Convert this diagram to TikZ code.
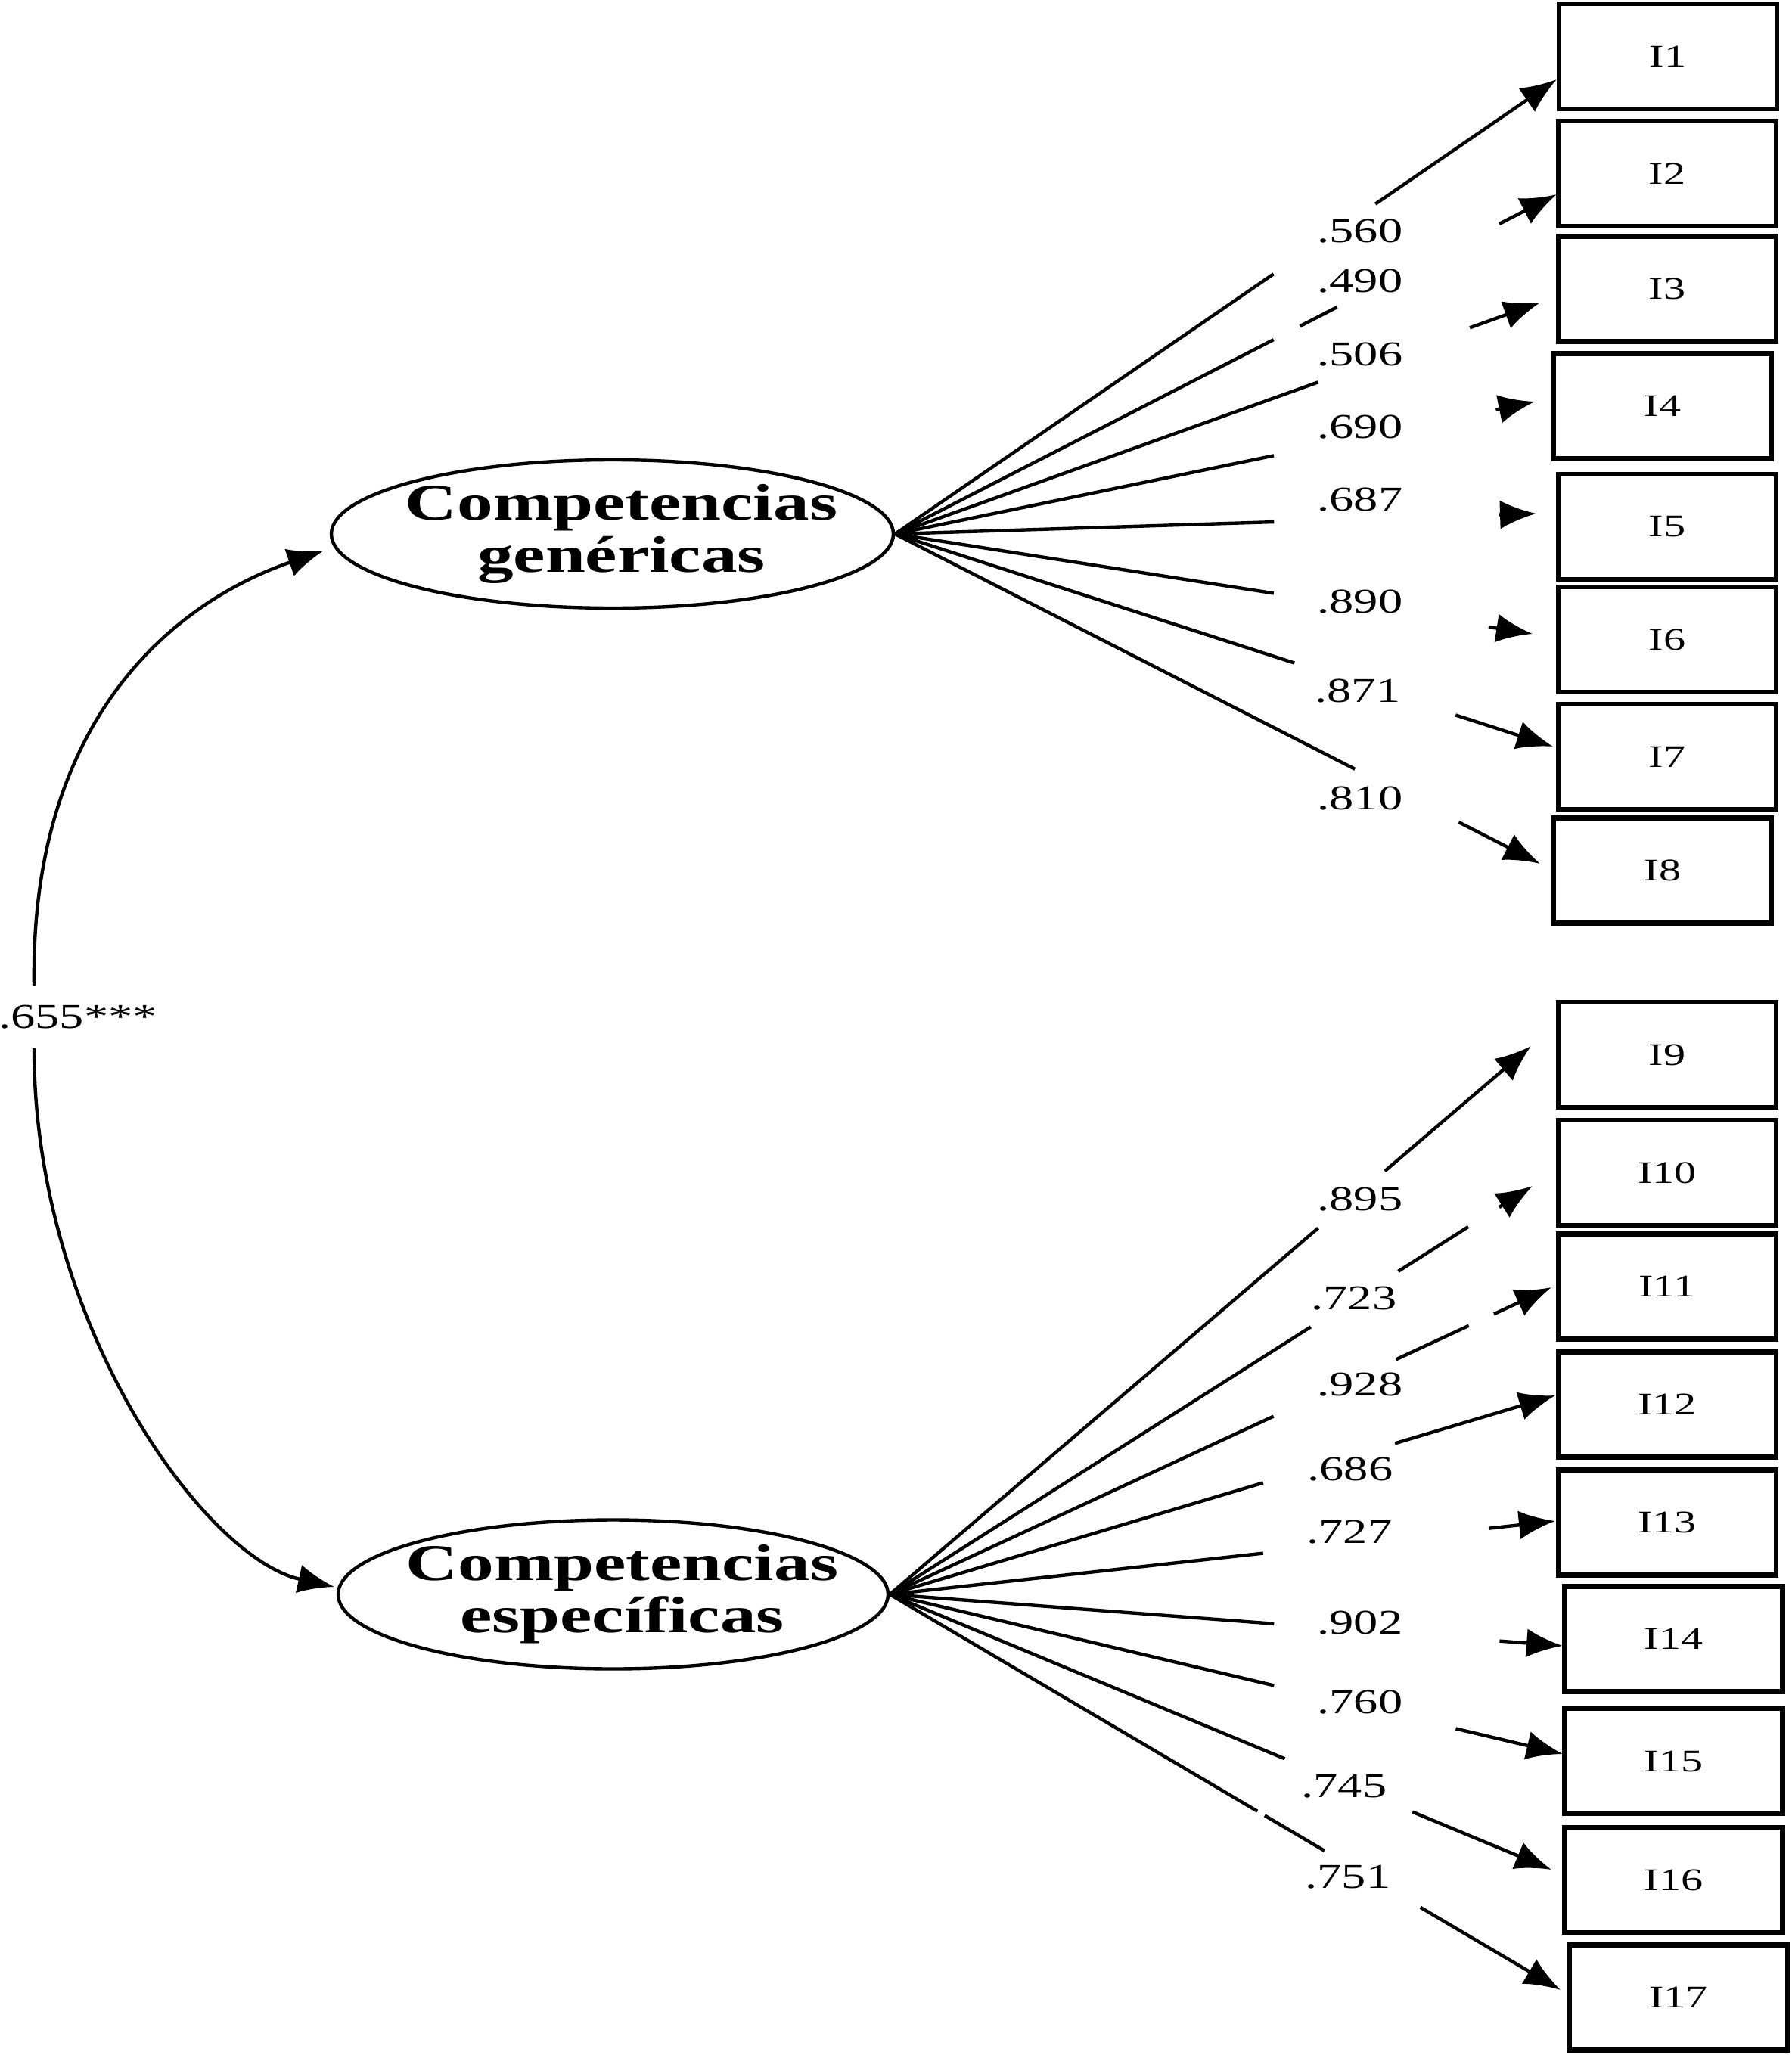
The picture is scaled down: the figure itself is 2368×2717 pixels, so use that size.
\documentclass[tikz,border=0pt]{standalone}
\usepackage{fontspec}
\setmainfont{Liberation Serif}[FakeStretch=1.4]
\usetikzlibrary{arrows.meta,calc,shapes.geometric}
\begin{document}
\begin{tikzpicture}[x=0.25pt,y=-0.25pt,
  conn/.style={line width=1.1pt},
  arr/.style={-{Latex[length=12pt,width=9.5pt]}},
  item/.style={draw,line width=1.6pt,minimum width=72pt,minimum height=34.75pt,inner sep=0pt,font=\fontsize{10.4}{12}\selectfont},
  latent/.style={draw,ellipse,line width=1.1pt,inner sep=0pt},
  ltext/.style={align=center,inner sep=0pt,xshift=3pt,font=\fontsize{17}{17.3}\selectfont\bfseries},
  lab/.style={inner sep=0pt,font=\fontsize{11.5}{13}\selectfont}]
\useasboundingbox (0,0) rectangle (2368,2717);
% latent variables
\node[latent,minimum width=185.75pt,minimum height=49pt,label={[ltext]center:{Competencias\\genéricas}}] (G) at (809.5,706) {};
\node[latent,minimum width=181.75pt,minimum height=49.25pt,label={[ltext]center:{Competencias\\específicas}}] (S) at (810.5,2108) {};
% items
\node[item] (I1) at (2205,74.5) {I1};
\node[item] (I2) at (2204,229.5) {I2};
\node[item] (I3) at (2204,382) {I3};
\node[item] (I4) at (2198,537) {I4};
\node[item] (I5) at (2204,696.5) {I5};
\node[item] (I6) at (2204,845.5) {I6};
\node[item] (I7) at (2204,1000.5) {I7};
\node[item] (I8) at (2198,1151) {I8};
\node[item] (I9) at (2204,1394.5) {I9};
\node[item] (I10) at (2204,1550.5) {I10};
\node[item] (I11) at (2204,1701) {I11};
\node[item] (I12) at (2204,1857) {I12};
\node[item] (I13) at (2204,2013) {I13};
\node[item] (I14) at (2212.5,2167) {I14};
\node[item] (I15) at (2212.5,2328.5) {I15};
\node[item] (I16) at (2212.5,2485.5) {I16};
\node[item] (I17) at (2219,2641) {I17};
% loading labels
\node[lab] (l1) at (1798,306) {.560};
\node[lab] (l2) at (1798,372) {.490};
\node[lab] (l3) at (1798,469) {.506};
\node[lab] (l4) at (1798,565) {.690};
\node[lab] (l5) at (1798,661) {.687};
\node[lab] (l6) at (1798,796) {.890};
\node[lab] (l7) at (1795,914) {.871};
\node[lab] (l8) at (1798,1056) {.810};
\node[lab] (l9) at (1798,1586) {.895};
\node[lab] (l10) at (1790,1717) {.723};
\node[lab] (l11) at (1798,1831) {.928};
\node[lab] (l12) at (1785,1943) {.686};
\node[lab] (l13) at (1784,2026) {.727};
\node[lab] (l14) at (1798,2146) {.902};
\node[lab] (l15) at (1798,2251) {.760};
\node[lab] (l16) at (1777,2362) {.745};
\node[lab] (l17) at (1782,2482) {.751};
% arrow tips
\coordinate (t1) at (2058,105);
\coordinate (t2) at (2058,257);
\coordinate (t3) at (2036,400);
\coordinate (t4) at (2029,531);
\coordinate (t5) at (2031,679);
\coordinate (t6) at (2026,838);
\coordinate (t7) at (2053,987);
\coordinate (t8) at (2036,1142);
\coordinate (t9) at (2024,1383);
\coordinate (t10) at (2026,1568);
\coordinate (t11) at (2051,1702);
\coordinate (t12) at (2056,1845);
\coordinate (t13) at (2056,2011);
\coordinate (t14) at (2066,2176);
\coordinate (t15) at (2066,2319);
\coordinate (t16) at (2051,2472);
\coordinate (t17) at (2063,2631);
% generic loadings
\draw[conn] (G.east) -- ($(G.east)!0.572!(t1)$);
\draw[conn,arr] ($(G.east)!0.726!(t1)$) -- (t1);
\draw[conn] (G.east) -- ($(G.east)!0.572!(t2)$);
\draw[conn] ($(G.east)!0.612!(t2)$) -- ($(G.east)!0.668!(t2)$);
\draw[conn,arr] ($(G.east)!0.913!(t2)$) -- (t2);
\draw[conn] (G.east) -- ($(G.east)!0.656!(t3)$);
\draw[conn,arr] ($(G.east)!0.891!(t3)$) -- (t3);
\draw[conn] (G.east) -- ($(G.east)!0.592!(t4)$);
\draw[conn,arr] ($(G.east)!0.939!(t4)$) -- (t4);
\draw[conn] (G.east) -- ($(G.east)!0.591!(t5)$);
\draw[conn,arr] ($(G.east)!0.942!(t5)$) -- (t5);
\draw[conn] (G.east) -- ($(G.east)!0.594!(t6)$);
\draw[conn,arr] ($(G.east)!0.931!(t6)$) -- (t6);
\draw[conn] (G.east) -- ($(G.east)!0.607!(t7)$);
\draw[conn,arr] ($(G.east)!0.852!(t7)$) -- (t7);
\draw[conn] (G.east) -- ($(G.east)!0.713!(t8)$);
\draw[conn,arr] ($(G.east)!0.874!(t8)$) -- (t8);
% specific loadings
\draw[conn] (S.east) -- ($(S.east)!0.668!(t9)$);
\draw[conn,arr] ($(S.east)!0.772!(t9)$) -- (t9);
\draw[conn] (S.east) -- ($(S.east)!0.655!(t10)$);
\draw[conn] ($(S.east)!0.791!(t10)$) -- ($(S.east)!0.900!(t10)$);
\draw[conn,arr] ($(S.east)!0.948!(t10)$) -- (t10);
\draw[conn] (S.east) -- ($(S.east)!0.580!(t11)$);
\draw[conn] ($(S.east)!0.765!(t11)$) -- ($(S.east)!0.875!(t11)$);
\draw[conn,arr] ($(S.east)!0.913!(t11)$) -- (t11);
\draw[conn] (S.east) -- ($(S.east)!0.561!(t12)$);
\draw[conn,arr] ($(S.east)!0.759!(t12)$) -- (t12);
\draw[conn] (S.east) -- ($(S.east)!0.561!(t13)$);
\draw[conn,arr] ($(S.east)!0.900!(t13)$) -- (t13);
\draw[conn] (S.east) -- ($(S.east)!0.571!(t14)$);
\draw[conn,arr] ($(S.east)!0.906!(t14)$) -- (t14);
\draw[conn] (S.east) -- ($(S.east)!0.571!(t15)$);
\draw[conn,arr] ($(S.east)!0.841!(t15)$) -- (t15);
\draw[conn] (S.east) -- ($(S.east)!0.597!(t16)$);
\draw[conn,arr] ($(S.east)!0.790!(t16)$) -- (t16);
\draw[conn] (S.east) -- ($(S.east)!0.548!(t17)$);
\draw[conn] ($(S.east)!0.559!(t17)$) -- ($(S.east)!0.648!(t17)$);
\draw[conn,arr] ($(S.east)!0.791!(t17)$) -- (t17);
% covariance
\node[lab] (l0) at (103,1345) {.655***};
\coordinate (ca) at (45,1303);
\coordinate (cb) at (45,1386);
\coordinate (ga) at (428,728);
\coordinate (sa) at (442,2098);
\draw[conn,arr] (ca) .. controls (40,960) and (220,800) .. (ga);
\draw[conn,arr] (cb) .. controls (45,1750) and (270,2060) .. (sa);
\end{tikzpicture}
\end{document}
